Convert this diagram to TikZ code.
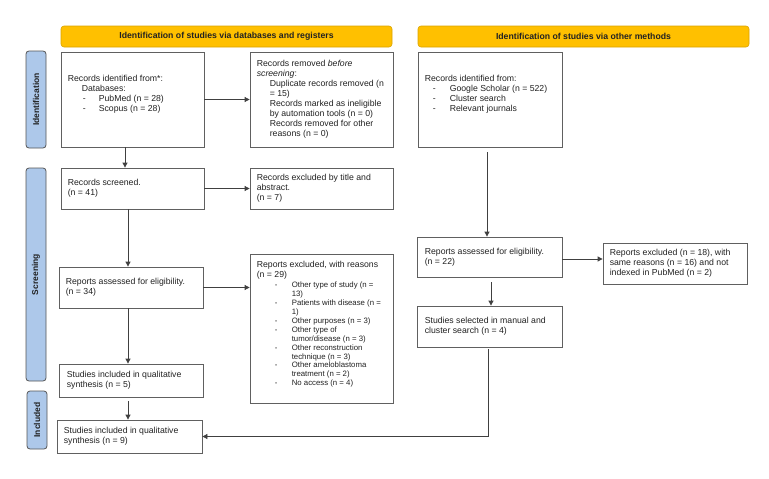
\documentclass[tikz,border=0pt]{standalone}
\usepackage{fontspec}
\setmainfont{Liberation Sans}
\usetikzlibrary{arrows.meta}
\definecolor{hdr}{HTML}{FFC000}
\definecolor{hdrb}{HTML}{D9A300}
\definecolor{side}{HTML}{ADC8EA}
\definecolor{sideb}{HTML}{555555}
\definecolor{boxb}{HTML}{606060}
\definecolor{linec}{HTML}{404040}
\definecolor{txtc}{HTML}{222222}
\newcommand{\fs}{\fontsize{8.7}{10}\selectfont}
\newcommand{\fsl}{\fontsize{7.8}{9}\selectfont}
\newcommand{\itm}[3]{\hspace*{#1}\makebox[#2][l]{-}#3}
\begin{document}
\begin{tikzpicture}[x=1pt,y=-1pt,
  box/.style={draw=boxb,line width=0.8pt,fill=white,inner sep=0pt},
  txt/.style={anchor=west,align=left,inner sep=0pt,font=\fs,text=txtc},
  hdrbox/.style={draw=hdrb,line width=0.6pt,fill=hdr,rounded corners=3pt,inner sep=0pt,font=\fs\bfseries,text=txtc},
  sidebox/.style={draw=sideb,line width=0.8pt,fill=side,rounded corners=3pt,inner sep=0pt},
  sidetxt/.style={rotate=90,font=\fontsize{8.5}{10}\selectfont\bfseries,text=txtc,inner sep=0pt},
  arr/.style={draw=linec,line width=0.8pt,-{Triangle[length=5pt,width=5pt]}}]
\useasboundingbox (0,0) rectangle (769,479);
% headers
\node[hdrbox,minimum width=331pt,minimum height=21pt] (h1) at (226.5,36.5) {Identification of studies via databases and registers};
\node[hdrbox,minimum width=331pt,minimum height=21pt] (h2) at (583.5,36.5) {Identification of studies via other methods};
% side labels
\node[sidebox,minimum width=20pt,minimum height=97pt] (s1) at (36,99.5) {};
\node[sidetxt] (s1t) at (s1) {Identification};
\node[sidebox,minimum width=20pt,minimum height=213pt] (s2) at (36,274.5) {};
\node[sidetxt] (s2t) at (s2) {Screening};
\node[sidebox,minimum width=20pt,minimum height=58pt] (s3) at (37,420) {};
\node[sidetxt] (s3t) at (s3) {Included};
% boxes
\node[box,minimum width=143pt,minimum height=95pt] (A) at (132.5,99.5) {};
\node[box,minimum width=143pt,minimum height=95pt] (B) at (321.5,99.5) {};
\node[box,minimum width=144pt,minimum height=95pt] (C) at (490,99.5) {};
\node[box,minimum width=143pt,minimum height=41pt] (D) at (132.5,188.5) {};
\node[box,minimum width=143pt,minimum height=41pt] (E) at (321.5,188.5) {};
\node[box,minimum width=144pt,minimum height=41pt] (F) at (131,287.5) {};
\node[box,minimum width=143pt,minimum height=149pt] (G) at (321.5,328.5) {};
\node[box,minimum width=144pt,minimum height=33pt] (H) at (131,380.5) {};
\node[box,minimum width=145pt,minimum height=33pt] (I) at (129.5,436.5) {};
\node[box,minimum width=145pt,minimum height=40pt] (J) at (489.5,257) {};
\node[box,minimum width=144pt,minimum height=41pt] (K) at (675,263.5) {};
\node[box,minimum width=145pt,minimum height=41pt] (L) at (489.5,326.5) {};
% texts
\node[txt] (At) at ([xshift=7pt,yshift=5.5pt]A.west) {Records identified from*:\\
\hspace*{14pt}Databases:\\
\itm{15pt}{16pt}{PubMed (n = 28)}\\
\itm{15pt}{16pt}{Scopus (n = 28)}};
\node[txt] (Bt) at ([xshift=7pt]B.west) {Records removed \textit{before}\\
\textit{screening}:\\
\hspace*{13pt}Duplicate records removed (n\\
\hspace*{13pt}= 15)\\
\hspace*{13pt}Records marked as ineligible\\
\hspace*{13pt}by automation tools (n = 0)\\
\hspace*{13pt}Records removed for other\\
\hspace*{13pt}reasons (n = 0)};
\node[txt] (Ct) at ([xshift=7pt,yshift=5.5pt]C.west) {Records identified from:\\
\itm{8pt}{17pt}{Google Scholar (n = 522)}\\
\itm{8pt}{17pt}{Cluster search}\\
\itm{8pt}{17pt}{Relevant journals}};
\node[txt] (Dt) at ([xshift=7pt]D.west) {Records screened.\\(n = 41)};
\node[txt] (Et) at ([xshift=7pt]E.west) {Records excluded by title and\\abstract.\\(n = 7)};
\node[txt] (Ft) at ([xshift=7pt]F.west) {Reports assessed for eligibility.\\(n = 34)};
\node[txt] (Gt) at ([xshift=7pt,yshift=4pt]G.west) {Reports excluded, with reasons\\
(n = 29)\\
{\fsl\itm{18pt}{17pt}{Other type of study (n =}}\\[-1.1pt]
{\fsl\hspace*{35pt}13)}\\[-1.1pt]
{\fsl\itm{18pt}{17pt}{Patients with disease (n =}}\\[-1.1pt]
{\fsl\hspace*{35pt}1)}\\[-1.1pt]
{\fsl\itm{18pt}{17pt}{Other purposes (n = 3)}}\\[-1.1pt]
{\fsl\itm{18pt}{17pt}{Other type of}}\\[-1.1pt]
{\fsl\hspace*{35pt}tumor/disease (n = 3)}\\[-1.1pt]
{\fsl\itm{18pt}{17pt}{Other reconstruction}}\\[-1.1pt]
{\fsl\hspace*{35pt}technique (n = 3)}\\[-1.1pt]
{\fsl\itm{18pt}{17pt}{Other ameloblastoma}}\\[-1.1pt]
{\fsl\hspace*{35pt}treatment (n = 2)}\\[-1.1pt]
{\fsl\itm{18pt}{17pt}{No access (n = 4)}}};
\node[txt] (Ht) at ([xshift=8pt]H.west) {Studies included in qualitative\\synthesis (n = 5)};
\node[txt] (It) at ([xshift=7pt]I.west) {Studies included in qualitative\\synthesis (n = 9)};
\node[txt] (Jt) at ([xshift=8pt]J.west) {Reports assessed for eligibility.\\(n = 22)};
\node[txt] (Kt) at ([xshift=7pt]K.west) {Reports excluded (n = 18), with\\same reasons (n = 16) and not\\indexed in PubMed (n = 2)};
\node[txt] (Lt) at ([xshift=8pt]L.west) {Studies selected in manual and\\cluster search (n = 4)};
% connectors
\draw[arr] (A.south -| 125,0) -- (D.north -| 125,0);
\draw[arr] (A.east) -- (B.west);
\draw[arr] (D.east) -- (E.west);
\draw[arr] (D.south -| 128,0) -- (F.north -| 128,0);
\draw[arr] (F.east) -- (F.east -| G.west);
\draw[arr] (F.south -| 128,0) -- (H.north -| 128,0);
\draw[arr,shorten <=4pt] (H.south -| 128,0) -- (I.north -| 128,0);
\draw[arr,shorten <=5pt] (C.south -| 487,0) -- (J.north -| 487,0);
\draw[arr] (J.east |- 0,259) -- (K.west |- 0,259);
\draw[arr,shorten <=5pt] (J.south -| 491,0) -- (L.north -| 491,0);
\draw[arr,shorten <=2pt] (L.south -| 488,0) |- (I.east);
\end{tikzpicture}
\end{document}
